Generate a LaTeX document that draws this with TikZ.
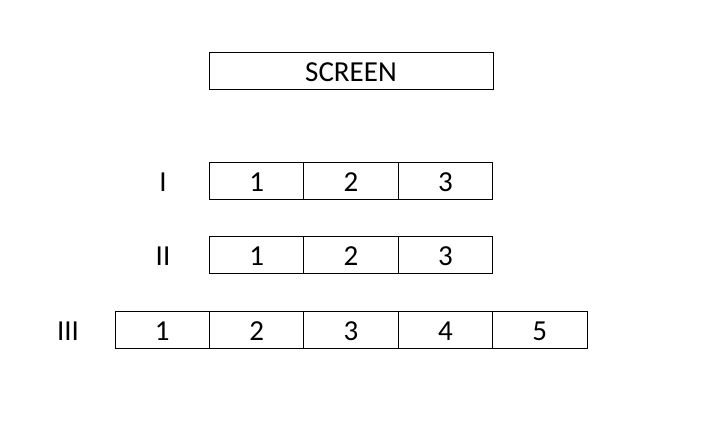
\documentclass[tikz,border=0pt]{standalone}
\usepackage{fontspec}
\setmainfont{Carlito}
\begin{document}
\begin{tikzpicture}[x=1pt,y=-1pt,
  cell/.style={draw,line width=0.8pt,minimum width=94.5pt,minimum height=37pt,
    inner sep=0pt,text height=22.4pt,text depth=0pt,font=\fontsize{29}{34}\selectfont},
  rowlabel/.style={inner sep=0pt,text height=22.4pt,text depth=0pt,
    font=\fontsize{29}{34}\selectfont}]
  \useasboundingbox (0,0) rectangle (717,421);

  %--- screen ---
  \node[cell,minimum width=284pt] (screen) at (351,70.5) {SCREEN};

  %--- row I ---
  \node[rowlabel] (lblI) at (163,180.5) {I};
  \foreach \k in {1,2,3}
    \node[cell] (i\k) at ({162.2+94.4*\k},180.5) {\k};

  %--- row II ---
  \node[rowlabel] (lblII) at (163,254.5) {II};
  \foreach \k in {1,2,3}
    \node[cell] (ii\k) at ({162.2+94.4*\k},254.5) {\k};

  %--- row III ---
  \node[rowlabel] (lblIII) at (68,329.5) {III};
  \foreach \k in {1,...,5}
    \node[cell] (iii\k) at ({67.8+94.4*\k},329.5) {\k};

\end{tikzpicture}
\end{document}
